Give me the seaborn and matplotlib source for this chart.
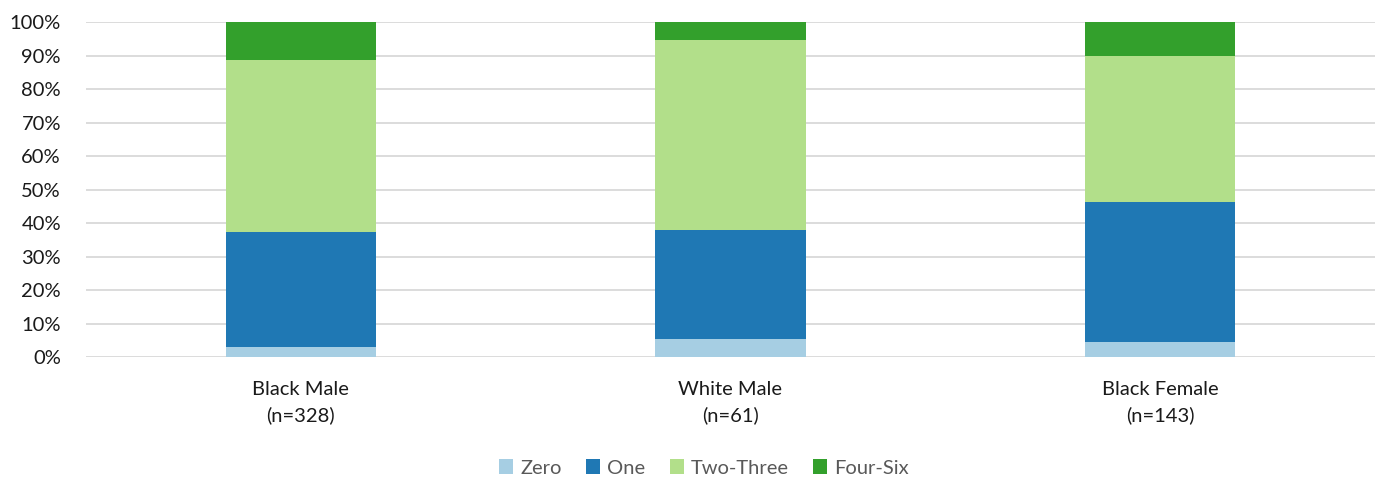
import numpy as np
import pandas as pd
import matplotlib
matplotlib.use("Agg")
import matplotlib.pyplot as plt
import seaborn as sns
from matplotlib.patches import Patch
from matplotlib.ticker import PercentFormatter

# Share of each group by count bucket (percent)
groups = ["Black Male\n(n=328)", "White Male\n(n=61)", "Black Female\n(n=143)"]
series = ["Zero", "One", "Two-Three", "Four-Six"]
zero = [2.9, 5.5, 4.6]
one = [34.3, 32.5, 41.8]
two_three = [51.4, 56.6, 43.4]
four_six = [11.4, 5.4, 10.2]
colors = ["#a6cee3", "#1f78b4", "#b2df8a", "#33a02c"]

sns.set_theme(style="white")
plt.rcParams["font.family"] = ["Lato", "DejaVu Sans"]

values = np.array([zero, one, two_three, four_six])
cum = np.cumsum(values, axis=0)

fig = plt.figure(figsize=(13.75, 4.8), dpi=100)
ax = fig.add_axes([0.0625, 0.256, 0.9375, 0.698])

# Stacked bars: draw cumulative totals from the top segment down
for i in range(len(series) - 1, -1, -1):
    df = pd.DataFrame({"group": groups, "value": cum[i]})
    sns.barplot(data=df, x="group", y="value", color=colors[i], width=0.35,
                saturation=1, ax=ax, zorder=3, linewidth=0)

ax.set_ylim(0, 100)
ax.set_xlim(-0.5, 2.5)
ax.set_yticks(np.arange(0, 101, 10))
ax.yaxis.set_major_formatter(PercentFormatter(decimals=0))
ax.grid(axis="y", color="#d9d9d9", linewidth=1.3, zorder=0)
ax.set_axisbelow(True)
for s in ax.spines.values():
    s.set_visible(False)
ax.set_xlabel("")
ax.set_ylabel("")
ax.tick_params(axis="y", labelsize=14.5, colors="#1a1a1a", pad=18, length=0)
ax.tick_params(axis="x", labelsize=14.5, colors="#1a1a1a", pad=17, length=0)
for lbl in ax.get_xticklabels():
    lbl.set_linespacing(1.55)

handles = [Patch(facecolor=c, edgecolor="none", label=s) for s, c in zip(series, colors)]
fig.legend(handles=handles, loc="center", bbox_to_anchor=(0.512, 0.025), ncol=4,
           frameon=False, fontsize=14.5, handlelength=0.7, handleheight=0.7,
           handletextpad=0.35, columnspacing=1.2, labelcolor="#595959")

fig.savefig("out.png", dpi=100)
